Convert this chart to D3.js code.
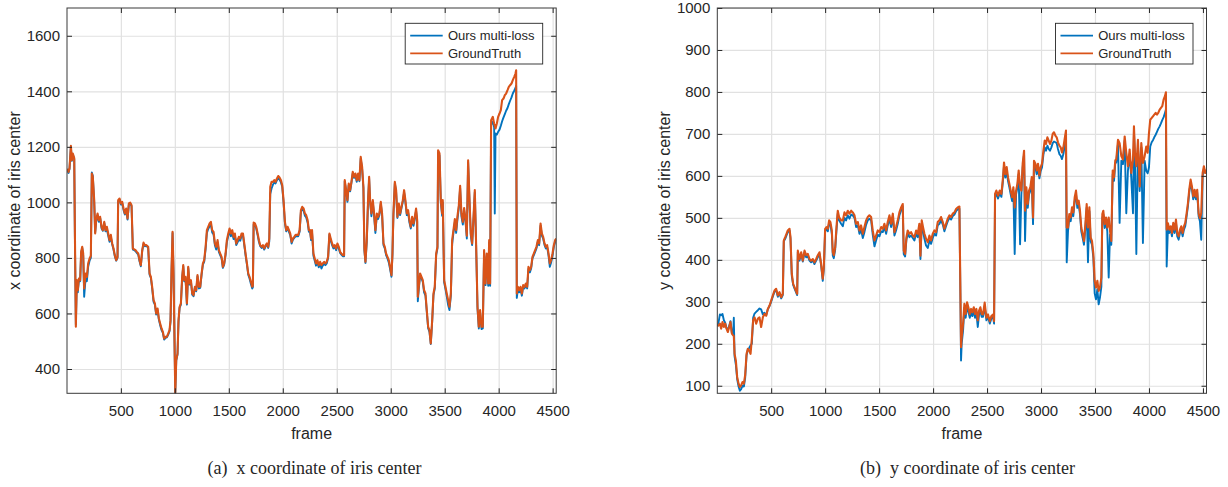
<!DOCTYPE html>
<html>
<head>
<meta charset="utf-8">
<script src="https://cdn.jsdelivr.net/npm/d3@7"></script>
<style>
  body { margin: 0; background: #fff; }
  svg { display: block; }
  text { font-family: "Liberation Sans", Arial, Helvetica, sans-serif; fill: #262626; }
  .caption { font-family: "Liberation Serif", "Times New Roman", serif; }
</style>
</head>
<body>
<svg id="fig" width="1228" height="487"></svg>
<script>
// ---------- panel (a): x coordinate of the iris centre per frame ----------
const frameX = [
  6,15,24,37,46,55,68,74,83,92,
  101,111,123,132,142,151,160,173,185,197,
  210,222,231,240,253,262,271,284,296,308,
  321,333,346,358,370,383,395,407,420,432,
  444,457,469,475,488,500,512,525,537,549,
  562,574,587,599,611,624,636,648,661,673,
  685,698,710,722,735,753,766,778,790,803,
  815,827,840,852,864,877,889,901,914,926,
  939,951,960,970,979,988,997,1004,1013,1025,
  1034,1044,1056,1068,1078,1087,1099,1112,1124,1136,
  1149,1161,1173,1186,1198,1210,1223,1235,1248,1260,
  1272,1285,1297,1309,1322,1334,1346,1359,1371,1383,
  1396,1408,1420,1433,1445,1457,1470,1482,1495,1507,
  1519,1532,1544,1556,1569,1581,1593,1606,1618,1631,
  1643,1655,1668,1680,1692,1705,1717,1723,1730,1742,
  1754,1767,1779,1791,1804,1816,1828,1841,1853,1865,
  1875,1884,1896,1909,1921,1933,1946,1958,1970,1983,
  1995,2007,2020,2032,2045,2057,2069,2082,2094,2106,
  2119,2131,2143,2156,2168,2180,2193,2205,2217,2230,
  2242,2253,2262,2271,2284,2296,2308,2321,2333,2346,
  2358,2370,2383,2395,2407,2420,2432,2444,2457,2469,
  2481,2494,2506,2519,2531,2543,2556,2568,2574,2587,
  2599,2611,2624,2636,2648,2661,2673,2685,2698,2710,
  2722,2735,2747,2756,2766,2778,2790,2800,2809,2821,
  2834,2846,2858,2871,2883,2895,2908,2920,2933,2945,
  2957,2970,2982,2994,3007,3016,3025,3038,3050,3062,
  3075,3087,3099,3112,3124,3136,3149,3161,3173,3186,
  3198,3211,3223,3235,3245,3251,3260,3272,3285,3297,
  3309,3322,3334,3347,3359,3371,3384,3396,3408,3421,
  3433,3439,3452,3464,3476,3482,3495,3507,3519,3532,
  3544,3557,3569,3581,3594,3606,3618,3631,3643,3655,
  3668,3680,3693,3705,3717,3730,3742,3754,3767,3779,
  3791,3804,3816,3828,3841,3853,3865,3878,3890,3903,
  3912,3921,3930,3946,3958,3964,3971,3983,3995,4008,
  4020,4032,4045,4057,4069,4082,4094,4106,4119,4131,
  4144,4156,4162,4168,4178,4190,4202,4215,4227,4239,
  4252,4264,4276,4289,4301,4313,4326,4338,4350,4363,
  4375,4388,4400,4412,4425,4437,4449,4462,4474,4486,
  4499,4511,4523,4533
];
const truthX = [
  1122,1110,1122,1204,1152,1176,1160,900,552,720,
  684,726,720,822,840,816,690,744,732,780,
  798,808,1104,1092,1008,888,936,960,936,948,
  912,900,930,900,912,888,864,883,852,834,
  810,792,804,1008,1014,996,1002,978,960,978,
  942,996,999,990,834,831,828,822,816,792,
  774,828,855,846,846,840,744,732,696,648,
  636,600,618,582,564,546,534,510,516,516,
  528,540,576,768,894,744,500,312,432,456,
  576,624,636,732,774,720,732,636,768,708,
  720,672,666,696,684,738,696,696,744,780,
  792,840,900,912,924,930,900,894,852,840,
  864,828,816,804,768,780,816,864,888,906,
  888,900,876,888,852,864,876,870,888,888,
  852,816,780,744,732,714,696,700,927,924,
  912,888,864,846,840,846,834,846,852,840,
  870,1056,1074,1074,1080,1074,1086,1095,1090,1080,
  1062,1008,930,900,912,900,888,858,870,876,
  883,883,883,900,972,984,978,960,954,936,
  900,900,870,900,816,798,780,792,774,786,
  774,780,786,780,786,804,888,870,852,840,
  846,834,852,840,822,816,810,810,1080,1044,
  1008,1068,1044,1074,1110,1092,1104,1080,1104,1080,
  1164,1128,1056,834,786,864,1008,1092,1008,960,
  1008,960,900,960,948,960,1002,960,852,840,
  816,804,792,768,738,816,960,1074,1044,948,
  996,960,984,1008,1044,1008,960,972,936,912,
  948,924,948,978,936,660,696,744,732,720,
  684,672,612,552,540,492,576,672,696,816,
  840,1188,1176,1008,960,1008,720,696,672,648,
  624,672,864,900,940,900,950,990,1060,960,
  930,980,940,880,1152,1008,888,852,948,1044,
  852,624,552,612,552,552,828,708,816,708,
  864,708,1296,1308,1284,1276,1266,1284,1308,1320,
  1332,1368,1374,1386,1392,1404,1416,1422,1428,1440,
  1452,1464,1476,672,696,684,696,672,702,696,
  708,696,768,756,768,804,816,828,840,864,
  852,924,888,876,852,840,846,816,780,792,
  816,846,864,870
];
const predX = [
  1118,1106,1120,1200,1150,1172,1156,880,560,712,
  676,720,716,818,836,808,660,726,716,768,
  790,800,1108,1096,1000,892,930,954,930,944,
  906,898,926,896,904,880,858,876,848,830,
  806,790,800,1004,1010,992,998,972,956,974,
  938,992,996,986,830,828,824,818,812,788,
  770,826,850,842,844,836,740,728,690,642,
  632,596,612,578,558,540,530,506,512,514,
  524,536,570,760,890,740,496,314,430,452,
  570,620,632,728,770,716,728,632,764,704,
  716,668,662,692,680,734,690,692,740,776,
  786,832,890,904,914,920,892,884,846,830,
  856,822,810,798,764,776,810,856,880,896,
  878,890,868,880,846,856,866,862,880,882,
  846,810,776,740,726,706,690,694,920,918,
  906,882,858,842,836,842,830,842,848,836,
  860,1030,1050,1064,1072,1068,1080,1086,1082,1072,
  1056,1000,924,896,908,894,882,852,866,872,
  878,878,878,894,966,976,970,952,946,928,
  894,894,864,892,808,790,772,784,766,778,
  762,772,778,774,780,800,884,862,846,834,
  840,828,846,834,818,812,806,806,1076,1040,
  1002,1062,1040,1070,1104,1088,1098,1074,1098,1076,
  1158,1120,1050,826,782,858,1002,1086,1000,950,
  1000,952,890,952,940,954,996,954,846,834,
  810,798,784,760,732,810,954,1068,1036,944,
  990,954,978,1002,1036,1000,954,964,928,906,
  940,916,940,970,930,644,688,738,726,714,
  676,664,606,546,534,490,570,666,690,810,
  834,1180,1168,1000,952,1000,712,688,662,630,
  612,664,850,890,928,890,938,980,1052,950,
  920,970,930,870,1144,1000,880,846,940,1036,
  846,618,546,604,544,546,820,702,808,700,
  856,700,1280,1290,1270,960,1248,1244,1254,1262,
  1276,1292,1306,1318,1330,1340,1354,1366,1378,1392,
  1402,1412,1420,656,688,676,688,664,696,690,
  702,690,760,748,762,798,810,822,834,858,
  846,916,880,870,846,834,840,808,768,784,
  808,840,858,866
];

// ---------- panel (b): y coordinate of the iris centre per frame ----------
const frameY = [
  1,12,25,37,49,62,74,86,99,111,
  123,136,148,154,161,173,185,198,210,222,
  235,247,259,272,284,296,309,321,333,346,
  361,377,392,407,423,438,454,469,485,500,
  515,531,546,562,577,593,608,617,630,642,
  654,670,679,691,704,716,728,741,747,762,
  778,793,809,824,840,855,870,886,901,917,
  932,948,963,978,988,1000,1012,1025,1037,1049,
  1062,1071,1080,1093,1105,1117,1130,1148,1164,1179,
  1194,1210,1225,1241,1256,1272,1287,1303,1318,1333,
  1349,1364,1380,1395,1410,1426,1441,1457,1472,1488,
  1503,1519,1534,1549,1565,1580,1596,1611,1627,1642,
  1657,1673,1688,1704,1719,1728,1741,1753,1765,1781,
  1796,1812,1827,1843,1858,1873,1883,1895,1907,1920,
  1935,1951,1966,1981,1997,2012,2028,2043,2059,2074,
  2090,2105,2120,2136,2151,2167,2182,2198,2213,2228,
  2244,2253,2259,2265,2278,2290,2302,2315,2327,2340,
  2352,2364,2377,2389,2401,2414,2426,2438,2451,2463,
  2478,2494,2509,2525,2540,2556,2565,2574,2586,2602,
  2617,2633,2648,2657,2670,2682,2694,2707,2719,2732,
  2744,2756,2769,2781,2793,2806,2818,2830,2843,2852,
  2864,2877,2889,2901,2914,2926,2935,2948,2960,2972,
  2985,2997,3009,3022,3034,3046,3059,3071,3083,3096,
  3108,3120,3133,3145,3157,3170,3182,3194,3207,3219,
  3231,3238,3250,3262,3275,3287,3299,3312,3324,3336,
  3349,3361,3373,3386,3398,3411,3423,3435,3448,3460,
  3472,3485,3497,3509,3522,3534,3546,3559,3568,3577,
  3590,3602,3614,3627,3639,3651,3664,3676,3688,3697,
  3713,3728,3744,3759,3775,3790,3805,3821,3836,3852,
  3861,3870,3883,3898,3914,3929,3944,3960,3975,3988,
  4000,4012,4025,4037,4049,4062,4074,4086,4099,4111,
  4123,4136,4148,4157,4164,4176,4188,4201,4213,4225,
  4238,4250,4262,4275,4287,4299,4312,4324,4336,4349,
  4361,4373,4386,4398,4410,4423,4435,4447,4460,4472,
  4484,4497,4509,4521,4531
];
const truthY = [
  242,244,248,236,252,240,248,236,228,240,
  252,224,220,218,176,160,121,105,97,101,
  109,105,125,176,188,184,176,212,256,263,
  248,260,263,240,263,271,267,283,291,303,
  315,327,331,315,323,311,319,446,454,462,
  470,474,454,367,343,335,327,319,422,402,
  418,398,422,411,414,402,398,402,394,402,
  411,418,390,355,383,474,478,474,494,490,
  470,418,411,430,478,517,501,494,494,513,
  506,517,510,517,513,506,486,490,470,482,
  462,478,494,502,506,502,470,446,458,470,
  466,478,474,486,470,490,506,486,510,466,
  478,494,513,525,533,422,414,454,470,462,
  466,458,454,470,462,486,410,494,478,462,
  450,442,458,446,462,470,466,490,494,502,
  490,474,486,498,506,502,510,513,521,525,
  527,327,192,216,248,295,271,299,287,271,
  283,275,287,271,283,256,279,287,271,270,
  298,262,270,254,266,270,254,557,565,553,
  565,557,597,632,604,621,597,581,565,549,
  573,525,565,581,613,573,565,629,660,517,
  573,533,565,573,597,501,636,629,613,629,
  601,621,629,660,684,676,692,684,676,684,
  700,704,696,692,680,672,668,656,668,688,
  708,477,477,509,501,525,513,549,565,533,
  541,517,477,461,445,485,533,477,525,453,
  445,414,350,334,350,326,334,358,509,517,
  485,501,477,501,469,445,613,597,637,639,
  686,678,647,639,694,655,623,663,607,639,
  718,655,623,686,575,678,631,647,670,655,
  702,734,738,742,746,750,746,750,758,762,
  766,782,790,799,472,487,472,480,464,488,
  472,496,464,456,472,480,464,480,488,511,
  535,567,591,575,551,567,551,567,511,499,
  511,607,623,607,615
];
const predY = [
  242,250,270,268,271,256,250,238,232,242,
  254,226,222,262,170,150,116,98,88,92,
  100,98,118,172,186,190,196,200,262,272,
  276,280,284,282,270,274,268,282,290,300,
  312,324,328,312,320,308,316,444,450,458,
  466,470,450,362,340,332,324,316,418,398,
  414,396,418,406,408,398,394,398,390,398,
  406,414,386,350,378,470,472,468,488,484,
  462,410,404,424,470,510,494,486,480,500,
  494,506,498,508,506,500,478,482,462,472,
  452,466,484,494,498,494,460,432,446,460,
  456,468,466,478,462,482,498,478,502,458,
  470,486,506,518,528,414,408,448,462,454,
  458,452,446,462,454,478,402,486,468,450,
  434,428,446,438,452,462,458,482,486,494,
  484,468,480,492,500,496,504,508,516,520,
  522,320,160,200,232,286,262,290,276,262,
  274,266,278,262,274,240,270,278,264,264,
  290,256,264,248,260,264,248,550,556,546,
  558,550,590,624,596,612,588,572,556,540,
  564,414,556,572,604,437,556,620,652,445,
  564,524,556,564,588,485,628,620,604,620,
  594,612,620,650,668,660,672,664,660,668,
  678,682,680,678,664,652,648,640,652,670,
  700,394,468,500,492,516,504,540,556,524,
  532,508,468,452,436,476,524,394,516,444,
  436,404,320,306,330,294,310,336,500,508,
  476,492,468,358,460,436,604,588,630,632,
  676,488,636,628,684,511,612,652,596,511,
  706,644,414,676,564,668,440,636,612,606,
  620,670,680,685,692,698,705,712,718,725,
  733,740,750,758,384,478,464,472,456,480,
  464,488,456,448,464,472,456,472,480,504,
  528,560,584,568,544,560,544,560,504,492,
  448,600,616,608,608
];

// ---------- axes, labels, legend ----------
const frameTicks = [500, 1000, 1500, 2000, 2500, 3000, 3500, 4000, 4500];
const xCoordTicks = [400, 600, 800, 1000, 1200, 1400, 1600];
const yCoordTicks = [100, 200, 300, 400, 500, 600, 700, 800, 900, 1000];
const seriesNames = ["Ours multi-loss", "GroundTruth"];
const seriesColors = ["#0072BD", "#D95319"];
const xAxisTitle = "frame";
const panelTitles = ["x coordinate of iris center", "y coordinate of iris center"];
const panelTags = ["(a)", "(b)"];

[[frameX, truthX, predX], [frameY, truthY, predY]].forEach(([f, t, p], i) => {
  if (f.length !== t.length || f.length !== p.length)
    console.error("series length mismatch in panel", i, f.length, t.length, p.length);
});

const svg = d3.select("#fig");
svg.append("rect").attr("width", 1228).attr("height", 487).attr("fill", "#fff");

const panels = [
  { left: 67,    top: 8, width: 489.2, height: 385.3, frameDomain: [1, 4533],
    valueDomain: [312.5, 1700], valueTicks: xCoordTicks,
    frames: frameX, truth: truthX, pred: predX,
    title: panelTitles[0], tag: panelTags[0], captionX: 314.5 },
  { left: 717.3, top: 8, width: 489.2, height: 385.3, frameDomain: [1, 4533],
    valueDomain: [82, 1000], valueTicks: yCoordTicks,
    frames: frameY, truth: truthY, pred: predY,
    title: panelTitles[1], tag: panelTags[1], captionX: 967.5 }
];

const plainNumber = d3.format("d");

panels.forEach((P, idx) => {
  const x = d3.scaleLinear().domain(P.frameDomain).range([0, P.width]);
  const y = d3.scaleLinear().domain(P.valueDomain).range([P.height, 0]);
  const g = svg.append("g").attr("transform", `translate(${P.left},${P.top})`);

  // grid
  const gridX = g.append("g").attr("transform", `translate(0,${P.height})`)
    .call(d3.axisBottom(x).tickValues(frameTicks).tickSize(-P.height).tickFormat(""));
  const gridY = g.append("g")
    .call(d3.axisLeft(y).tickValues(P.valueTicks).tickSize(-P.width).tickFormat(""));
  [gridX, gridY].forEach(a => {
    a.select(".domain").remove();
    a.selectAll("line").attr("stroke", "#e1e1e1").attr("stroke-width", 1.2);
  });

  // data lines: prediction underneath, ground truth on top
  const clipId = "clip" + idx;
  g.append("clipPath").attr("id", clipId)
    .append("rect").attr("width", P.width).attr("height", P.height);
  const line = d3.line().x(d => x(d[0])).y(d => y(d[1]));
  const plot = g.append("g").attr("clip-path", `url(#${clipId})`);
  [P.pred, P.truth].forEach((vals, k) => {
    const pts = P.frames.map((fr, j) => [fr, vals[j]]);
    plot.append("path").datum(pts)
      .attr("fill", "none")
      .attr("stroke", seriesColors[k])
      .attr("stroke-width", k === 0 ? 1.9 : 2.1)
      .attr("stroke-linejoin", "round")
      .attr("d", line);
  });

  // axes with inward ticks on all four sides
  const tickStyle = a => {
    a.select(".domain").remove();
    a.selectAll("line").attr("stroke", "#262626").attr("stroke-width", 1);
    a.selectAll("text").attr("font-size", 15).attr("fill", "#262626")
      .attr("font-family", "Liberation Sans, Arial, sans-serif");
  };
  g.append("g").attr("transform", `translate(0,${P.height})`)
    .call(d3.axisBottom(x).tickValues(frameTicks).tickFormat(plainNumber)
      .tickSizeInner(-5).tickSizeOuter(0).tickPadding(12.5))
    .call(tickStyle);
  g.append("g")
    .call(d3.axisTop(x).tickValues(frameTicks).tickSizeInner(-5).tickSizeOuter(0).tickFormat(""))
    .call(tickStyle);
  g.append("g")
    .call(d3.axisLeft(y).tickValues(P.valueTicks).tickFormat(plainNumber)
      .tickSizeInner(-5).tickSizeOuter(0).tickPadding(7))
    .call(tickStyle);
  g.append("g").attr("transform", `translate(${P.width},0)`)
    .call(d3.axisRight(y).tickValues(P.valueTicks).tickSizeInner(-5).tickSizeOuter(0).tickFormat(""))
    .call(tickStyle);

  // axes box
  g.append("rect").attr("width", P.width).attr("height", P.height)
    .attr("fill", "none").attr("stroke", "#3a3a3a").attr("stroke-width", 1);

  // axis titles
  g.append("text").attr("x", P.width / 2).attr("y", 431)
    .attr("text-anchor", "middle").attr("font-size", 16).text(xAxisTitle);
  g.append("text")
    .attr("transform", `translate(-47,${P.height / 2}) rotate(-90)`)
    .attr("text-anchor", "middle").attr("font-size", 16).text(P.title);

  // legend
  const lg = g.append("g").attr("transform", `translate(${P.width - 151},15.3)`);
  lg.append("rect").attr("width", 137.5).attr("height", 40.7)
    .attr("fill", "#fff").attr("stroke", "#262626").attr("stroke-width", 0.9);
  seriesNames.forEach((name, k) => {
    const cy = 12.4 + k * 17.6;
    lg.append("line").attr("x1", 5).attr("x2", 37.5).attr("y1", cy).attr("y2", cy)
      .attr("stroke", seriesColors[k]).attr("stroke-width", 1.8);
    lg.append("text").attr("x", 42.7).attr("y", cy + 4.8)
      .attr("font-size", 13).text(name);
  });

  // sub-figure caption
  const cap = svg.append("text").attr("class", "caption")
    .attr("x", P.captionX).attr("y", 474).attr("text-anchor", "middle")
    .attr("font-size", 18).attr("fill", "#000");
  cap.append("tspan").text(P.tag);
  cap.append("tspan").attr("dx", 9).text(P.title);
});
</script>
</body>
</html>
